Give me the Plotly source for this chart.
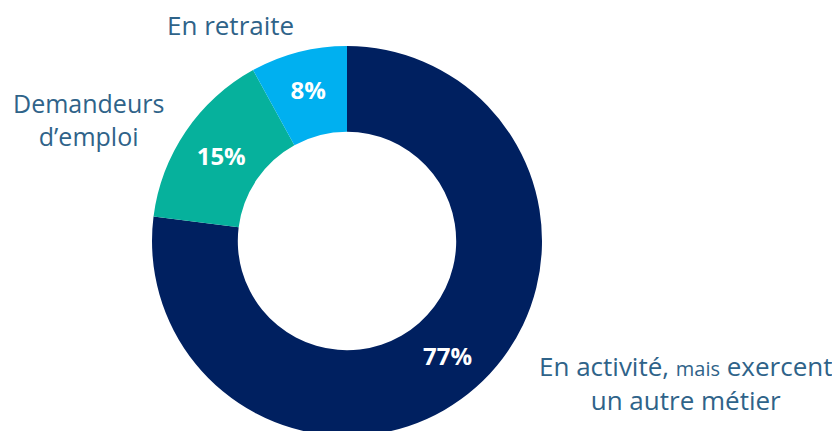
import plotly.graph_objects as go

categories = ["En activité, mais exercent un autre métier", "Demandeurs d'emploi", "En retraite"]
values = [77, 15, 8]
pct_labels = ["77%", "15%", "8%"]
colors = ["#002060", "#06b19c", "#00b0f0"]

W, H = 840, 431
OFF = 8  # page body margin
cx, cy, R = 347 - OFF, 241 - OFF, 195

fig = go.Figure(go.Pie(
    labels=categories,
    values=values,
    text=pct_labels,
    textinfo="text",
    textposition="inside",
    insidetextorientation="horizontal",
    textfont=dict(family="Open Sans", size=24, color="white", weight="bold"),
    marker=dict(colors=colors, line=dict(width=0)),
    hole=0.56,
    sort=False,
    direction="clockwise",
    rotation=0,
    showlegend=False,
    domain=dict(x=[(cx - R) / W, (cx + R) / W], y=[max(0, 1 - (cy + R) / H), 1 - (cy - R) / H]),
))

label_color = "#2f6389"

def ann(text, px, py, size):
    fig.add_annotation(text=text, x=(px - OFF) / W, y=1 - (py - OFF) / H, xref="paper", yref="paper",
                       showarrow=False, font=dict(family="Open Sans", size=size, color=label_color),
                       xanchor="center", yanchor="middle", align="center", borderpad=0)

ann("En retraite", 230, 25, 26)
ann("Demandeurs<br>d\u2019emploi", 88, 119, 25)
ann("En activité, <span style='font-size:20px'>mais</span> exercent<br>un autre métier", 685, 383, 26)

fig.update_layout(width=W, height=H, margin=dict(l=0, r=0, t=0, b=0),
                  paper_bgcolor="white", plot_bgcolor="white")

fig.write_html("out.html")
